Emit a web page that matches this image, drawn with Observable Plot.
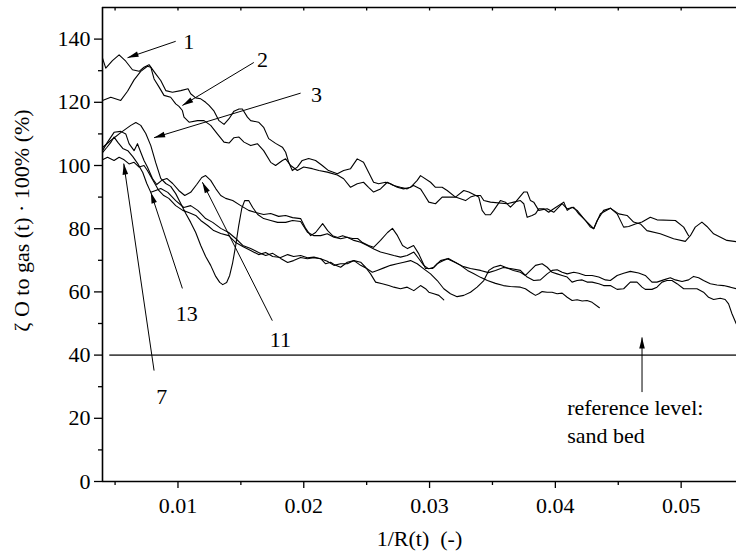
<!DOCTYPE html>
<html><head><meta charset="utf-8">
<script src="https://cdn.jsdelivr.net/npm/d3@7"></script>
<script src="https://cdn.jsdelivr.net/npm/@observablehq/plot@0.6"></script>
<style>body{margin:0;background:#fff} #chart svg{display:block}</style>
</head><body><div id="chart"></div>
<script>
// ---- data (x = 1/R(t), y = zeta O to gas (t) * 100 %) ----
const curve1 = [[0.00400,134.0],[0.00426,130.8],[0.00479,133.2],[0.00532,135.0],[0.00585,133.0],[0.00638,130.3],[0.00691,129.8],[0.00730,131.1],[0.00770,131.9],[0.00823,129.0],[0.00863,126.9],[0.00903,123.7],[0.00956,123.2],[0.01022,123.7],[0.01080,124.3],[0.01101,122.7],[0.01141,121.4],[0.01181,121.1],[0.01220,120.0],[0.01247,119.0],[0.01287,117.2],[0.01326,114.2],[0.01366,113.0],[0.01406,114.8],[0.01445,117.2],[0.01485,117.9],[0.01512,117.9],[0.01552,115.3],[0.01578,114.2],[0.01641,113.7],[0.01681,112.1],[0.01721,108.5],[0.01776,107.0],[0.01830,105.8],[0.01856,104.2],[0.01880,101.0],[0.01909,98.4],[0.01949,99.5],[0.01988,101.6],[0.02039,102.2],[0.02094,101.6],[0.02147,100.0],[0.02197,98.4],[0.02267,97.4],[0.02317,98.4],[0.02372,99.0],[0.02425,102.1],[0.02475,101.0],[0.02515,97.9],[0.02555,94.7],[0.02595,94.2],[0.02650,94.7],[0.02690,94.2],[0.02743,93.1],[0.02793,92.6],[0.02849,93.1],[0.02902,95.3],[0.02928,96.8],[0.03008,94.7],[0.03047,93.1],[0.03100,93.1],[0.03140,92.1],[0.03206,90.0],[0.03286,88.9],[0.03325,90.0],[0.03365,90.5],[0.03405,90.5],[0.03431,88.9],[0.03484,88.4],[0.03617,87.9],[0.03669,88.4],[0.03722,88.9],[0.03749,87.9],[0.03776,83.6],[0.03815,84.2],[0.03842,84.7],[0.03868,86.3],[0.03908,86.3],[0.03947,85.2],[0.03987,86.3],[0.04067,88.4],[0.04094,85.8],[0.04133,86.8],[0.04173,85.8],[0.04239,82.6],[0.04305,80.0],[0.04358,84.7],[0.04437,86.5],[0.04491,84.7],[0.04543,80.5],[0.04583,80.7],[0.04636,81.5],[0.04689,82.1],[0.04755,83.6],[0.04808,82.8],[0.04954,82.6],[0.05020,80.5],[0.05059,77.8]];

const curve2 = [[0.00400,120.6],[0.00466,121.6],[0.00545,120.6],[0.00599,123.5],[0.00651,127.1],[0.00704,129.8],[0.00757,131.4],[0.00784,131.1],[0.00810,127.4],[0.00850,124.8],[0.00889,122.2],[0.00942,121.6],[0.00982,119.5],[0.01008,118.7],[0.01035,117.4],[0.01048,115.3],[0.01088,113.7],[0.01155,114.2],[0.01207,114.2],[0.01260,112.7],[0.01313,110.0],[0.01366,107.4],[0.01406,107.1],[0.01445,108.8],[0.01485,109.0],[0.01525,107.4],[0.01578,106.3],[0.01631,106.9],[0.01681,104.7],[0.01737,101.0],[0.01776,100.0],[0.01830,101.6],[0.01856,102.1],[0.01896,100.0],[0.01949,98.4],[0.01999,99.5],[0.02068,99.0],[0.02120,98.4],[0.02187,97.9],[0.02267,97.0],[0.02317,95.8],[0.02372,93.1],[0.02425,94.2],[0.02475,94.7],[0.02515,93.1],[0.02555,91.6],[0.02610,92.6],[0.02664,94.7],[0.02713,93.7],[0.02769,93.1],[0.02822,92.6],[0.02873,93.7],[0.02928,92.6],[0.02954,91.0],[0.02994,88.4],[0.03047,87.9],[0.03100,90.0],[0.03206,90.0],[0.03272,92.1],[0.03312,91.6],[0.03391,90.0],[0.03418,85.8],[0.03444,84.4],[0.03484,84.4],[0.03510,85.8],[0.03563,88.9],[0.03603,88.4],[0.03643,86.8],[0.03683,88.4],[0.03749,91.6],[0.03776,91.6],[0.03802,88.9],[0.03828,88.4],[0.03868,85.8],[0.03935,86.3],[0.03987,85.2],[0.04054,87.9],[0.04094,86.3],[0.04146,86.8],[0.04186,84.7],[0.04239,82.6],[0.04279,80.5],[0.04305,80.0],[0.04332,82.6],[0.04384,85.8],[0.04437,86.5],[0.04504,84.7],[0.04570,84.2],[0.04622,82.1],[0.04676,81.5],[0.04728,79.4],[0.04834,78.4],[0.04940,76.8],[0.05033,76.0],[0.05073,77.8],[0.05112,80.5],[0.05165,82.1],[0.05205,80.7],[0.05258,78.4],[0.05364,76.3],[0.05438,75.9]];

const curve3 = [[0.00400,105.7],[0.00466,107.9],[0.00545,110.4],[0.00625,112.7],[0.00665,113.6],[0.00704,112.7],[0.00744,110.1],[0.00784,106.3],[0.00823,100.9],[0.00863,95.9],[0.00903,94.3],[0.00942,93.4],[0.00982,91.1],[0.01022,88.0],[0.01062,84.8],[0.01101,82.0],[0.01141,78.8],[0.01181,74.7],[0.01220,71.2],[0.01260,68.4],[0.01300,64.9],[0.01332,63.0],[0.01356,62.3],[0.01387,63.0],[0.01411,65.2],[0.01435,69.3],[0.01459,74.7],[0.01483,81.0],[0.01507,86.4],[0.01530,88.9],[0.01562,88.9],[0.01594,86.7],[0.01634,84.5],[0.01681,83.2],[0.01737,82.6],[0.01792,82.0],[0.01856,82.0],[0.01911,82.6],[0.01975,82.3],[0.02029,78.9],[0.02081,77.8],[0.02134,77.8],[0.02187,78.4],[0.02240,77.3],[0.02293,76.8],[0.02346,77.3],[0.02399,76.3],[0.02452,75.7],[0.02505,74.7],[0.02557,73.6],[0.02610,72.6],[0.02664,72.1],[0.02716,71.5],[0.02769,71.0],[0.02822,71.5],[0.02875,72.6],[0.02915,70.5],[0.02954,68.4],[0.02994,67.3],[0.03034,67.8],[0.03087,69.9],[0.03140,70.5],[0.03206,69.3],[0.03270,68.0],[0.03325,67.4],[0.03405,66.8],[0.03468,66.1],[0.03524,66.8],[0.03587,67.7],[0.03643,67.4],[0.03722,66.8],[0.03776,64.7],[0.03828,63.6],[0.03881,63.8],[0.03935,65.7],[0.03974,66.8],[0.04014,67.0],[0.04054,66.2],[0.04094,65.7],[0.04146,66.2],[0.04186,65.9],[0.04239,65.2],[0.04292,65.2],[0.04345,64.7],[0.04398,63.8],[0.04437,63.6],[0.04491,65.2],[0.04543,65.9],[0.04596,66.5],[0.04662,66.0],[0.04715,65.2],[0.04768,63.1],[0.04808,63.1],[0.04861,63.8],[0.04914,64.5],[0.04954,63.8],[0.05007,63.3],[0.05059,63.8],[0.05099,64.9],[0.05139,64.5],[0.05178,63.6],[0.05232,62.6],[0.05285,62.2],[0.05337,62.0],[0.05391,61.5],[0.05438,61.0]];

const curve11 = [[0.00400,104.7],[0.00440,107.4],[0.00492,110.5],[0.00545,110.8],[0.00585,110.0],[0.00611,106.9],[0.00651,104.7],[0.00678,106.9],[0.00704,104.2],[0.00730,101.6],[0.00757,99.5],[0.00797,95.9],[0.00831,94.0],[0.00871,95.3],[0.00911,95.9],[0.00958,94.3],[0.01006,92.1],[0.01054,90.5],[0.01101,91.5],[0.01149,94.0],[0.01189,96.2],[0.01220,96.8],[0.01260,95.3],[0.01300,92.7],[0.01340,90.5],[0.01379,89.6],[0.01435,88.9],[0.01499,87.3],[0.01562,85.8],[0.01618,85.1],[0.01681,84.5],[0.01737,84.8],[0.01800,83.9],[0.01856,84.2],[0.01911,83.5],[0.01975,83.2],[0.02015,80.1],[0.02055,77.8],[0.02094,78.8],[0.02150,81.6],[0.02190,79.4],[0.02229,77.8],[0.02269,77.2],[0.02309,77.8],[0.02349,77.2],[0.02388,76.9],[0.02428,76.9],[0.02467,75.6],[0.02515,74.7],[0.02555,74.1],[0.02610,76.3],[0.02666,78.8],[0.02705,80.1],[0.02745,77.8],[0.02785,74.7],[0.02825,73.7],[0.02873,74.7],[0.02912,72.2],[0.02968,67.4],[0.03024,67.4],[0.03063,69.0],[0.03111,69.9],[0.03150,70.6],[0.03206,69.3],[0.03246,68.4],[0.03301,66.8],[0.03349,65.8],[0.03405,64.6],[0.03460,63.6],[0.03524,62.7],[0.03587,62.0],[0.03643,61.7],[0.03722,61.5],[0.03762,61.0],[0.03802,59.9],[0.03842,58.9],[0.03868,59.4],[0.03895,60.1],[0.03935,59.9],[0.03974,59.9],[0.04014,59.4],[0.04054,59.6],[0.04094,58.3],[0.04133,57.3],[0.04173,57.5],[0.04213,57.1],[0.04252,57.3],[0.04292,56.7],[0.04350,55.0]];

const curve13 = [[0.00400,104.1],[0.00434,105.7],[0.00466,107.3],[0.00492,109.0],[0.00522,107.3],[0.00561,105.4],[0.00601,104.7],[0.00641,102.8],[0.00680,100.6],[0.00720,97.8],[0.00752,94.3],[0.00784,91.5],[0.00823,92.1],[0.00863,92.7],[0.00919,91.5],[0.00982,88.9],[0.01046,86.7],[0.01101,87.3],[0.01157,85.8],[0.01220,83.2],[0.01276,82.0],[0.01340,80.1],[0.01403,78.8],[0.01459,76.9],[0.01515,74.7],[0.01578,73.7],[0.01641,72.5],[0.01697,71.5],[0.01753,72.2],[0.01816,70.6],[0.01872,69.3],[0.01919,69.9],[0.01975,70.9],[0.02029,70.5],[0.02081,70.8],[0.02134,70.5],[0.02187,69.7],[0.02240,68.4],[0.02293,68.9],[0.02346,68.9],[0.02399,69.9],[0.02452,68.4],[0.02505,67.3],[0.02545,66.2],[0.02584,66.8],[0.02637,67.6],[0.02690,68.4],[0.02743,68.9],[0.02796,69.4],[0.02849,69.9],[0.02902,68.9],[0.02954,67.3],[0.03008,65.7],[0.03061,63.6],[0.03113,61.0],[0.03166,59.4],[0.03219,58.5],[0.03272,58.9],[0.03325,59.9],[0.03378,61.5],[0.03431,63.6],[0.03471,66.8],[0.03510,67.8],[0.03563,68.4],[0.03627,67.4],[0.03667,66.8],[0.03722,66.2],[0.03762,65.2],[0.03802,66.8],[0.03842,68.4],[0.03895,68.9],[0.03935,67.8],[0.03974,66.2],[0.04014,65.7],[0.04054,65.2],[0.04094,64.7],[0.04133,63.1],[0.04173,63.6],[0.04213,63.8],[0.04252,63.1],[0.04292,63.1],[0.04345,62.6],[0.04384,62.0],[0.04437,62.0],[0.04491,60.8],[0.04543,61.0],[0.04596,63.1],[0.04649,63.1],[0.04689,61.5],[0.04715,60.8],[0.04768,60.8],[0.04808,61.5],[0.04848,63.1],[0.04887,63.6],[0.04927,63.6],[0.04967,62.6],[0.05020,61.0],[0.05073,61.0],[0.05126,61.0],[0.05178,59.9],[0.05218,58.3],[0.05258,57.6],[0.05311,58.0],[0.05350,57.6],[0.05377,56.2],[0.05404,53.1],[0.05438,49.9]];

const curve7 = [[0.00400,101.8],[0.00440,102.6],[0.00492,101.6],[0.00532,102.6],[0.00572,101.8],[0.00611,100.5],[0.00651,101.0],[0.00691,99.5],[0.00730,100.0],[0.00757,98.4],[0.00810,94.7],[0.00847,92.1],[0.00887,90.5],[0.00927,89.6],[0.00982,87.3],[0.01038,85.8],[0.01085,85.1],[0.01141,84.2],[0.01181,82.6],[0.01236,81.0],[0.01284,79.4],[0.01340,78.5],[0.01403,77.8],[0.01459,75.6],[0.01515,74.4],[0.01578,73.1],[0.01641,71.8],[0.01697,72.5],[0.01753,71.2],[0.01816,70.9],[0.01872,71.8],[0.01919,71.2],[0.01975,71.5],[0.02029,70.8],[0.02081,71.0],[0.02134,70.5],[0.02174,68.9],[0.02213,69.4],[0.02253,68.4],[0.02293,67.8],[0.02346,69.4],[0.02399,69.9],[0.02452,69.4],[0.02491,67.8],[0.02531,65.7],[0.02571,63.1],[0.02624,62.6],[0.02676,62.0],[0.02716,61.5],[0.02769,61.0],[0.02822,61.5],[0.02875,60.4],[0.02928,62.0],[0.02968,61.0],[0.02994,59.9],[0.03034,59.4],[0.03074,58.9],[0.03113,57.5]];

const seriesNames = ["1", "2", "3", "11", "13", "7"];
const seriesPoints = [curve1, curve2, curve3, curve11, curve13, curve7];

// axes
const xDomain = [0.004, 0.0544];
const yDomain = [0, 150];
const xMajor = [0.01, 0.02, 0.03, 0.04, 0.05];
const xTickLabels = ["0.01", "0.02", "0.03", "0.04", "0.05"];
const xMinor = [0.005, 0.015, 0.025, 0.035, 0.045];
const yMajor = [0, 20, 40, 60, 80, 100, 120, 140];
const yTickLabels = ["0", "20", "40", "60", "80", "100", "120", "140"];
const yMinor = [10, 30, 50, 70, 90, 110, 130];
const xTitle = "1/R(t)\u00a0 (-)";
const yTitle = "\u03b6 O to gas (t) \u00b7 100% (%)";

// reference level
const refLevel = 40;
const refStart = 0.00458;

// annotations (data coordinates)
const arrowData = [
  {x1: 0.00982, y1: 139.3, x2: 0.00599, y2: 134.1},
  {x1: 0.01603, y1: 132.6, x2: 0.01035, y2: 119.0},
  {x1: 0.01975, y1: 122.9, x2: 0.00810, y2: 108.8},
  {x1: 0.01035, y1: 61.1, x2: 0.00784, y2: 91.5},
  {x1: 0.01750, y1: 50.9, x2: 0.01194, y2: 94.7},
  {x1: 0.00810, y1: 35.1, x2: 0.00569, y2: 100.6},
  {x1: 0.04689, y1: 28.3, x2: 0.04689, y2: 45.6}
];
const labelData = [
  {text: "1", x: 0.01085, y: 139.2},
  {text: "2", x: 0.01671, y: 133.3},
  {text: "3", x: 0.02102, y: 122.2},
  {text: "13", x: 0.01070, y: 52.9},
  {text: "11", x: 0.01814, y: 44.9},
  {text: "7", x: 0.00871, y: 26.6}
];
const refText = [
  {text: "reference level:", x: 0.04094, y: 23.4},
  {text: "sand bed", x: 0.04094, y: 14.3}
];

// ---- build ----
const table = seriesNames.flatMap((name, i) => seriesPoints[i].map(([x, y]) => ({series: name, x, y})));
const xFmt = new Map(xMajor.map((v, i) => [v, xTickLabels[i]]));
const yFmt = new Map(yMajor.map((v, i) => [v, yTickLabels[i]]));
const headSymbol = {
  draw(context) {
    context.moveTo(0, 0);
    context.lineTo(2.8, 11);
    context.lineTo(-2.8, 11);
    context.closePath();
  }
};
const FONT = '"Liberation Serif", "Times New Roman", Times, serif';

function build(rot) {
  return Plot.plot({
    width: 736,
    height: 555,
    marginLeft: 102,
    marginRight: 0,
    marginTop: 7,
    marginBottom: 74,
    x: {domain: xDomain, label: null},
    y: {domain: yDomain, label: null},
    style: {fontFamily: FONT, fontSize: "22px", color: "#000", background: "#fff", overflow: "visible"},
    marks: [
      Plot.ruleY([refLevel], {x1: refStart, x2: xDomain[1], stroke: "#4a4a4a", strokeWidth: 1.6}),
      Plot.line(table, {x: "x", y: "y", z: "series", stroke: "#000", strokeWidth: 1.1, strokeLinejoin: "round"}),
      Plot.axisY(yMajor, {tickSize: 8, tickPadding: 4, strokeWidth: 1.3, fontSize: 22, tickFormat: d => yFmt.get(d), label: null}),
      Plot.axisY(yMinor, {tickSize: 4, strokeWidth: 1.3, tickFormat: () => "", label: null}),
      Plot.axisX(xMajor, {tickSize: 7, tickPadding: 9, strokeWidth: 1.3, fontSize: 22, tickFormat: d => xFmt.get(d), label: null}),
      Plot.axisX(xMinor, {tickSize: 4, strokeWidth: 1.3, tickFormat: () => "", label: null}),
      Plot.ruleX(xMajor.concat(xMinor), {y1: yDomain[1], y2: yDomain[1] - 1.1, strokeWidth: 1.3}),
      Plot.ruleX([xDomain[0]], {y1: yDomain[0], y2: yDomain[1], strokeWidth: 1.6}),
      Plot.ruleY([yDomain[0], yDomain[1]], {x1: xDomain[0], x2: xDomain[1], strokeWidth: 1.6}),
      Plot.link(arrowData, {x1: "x1", y1: "y1", x2: "x2", y2: "y2", stroke: "#000", strokeWidth: 1}),
      Plot.dot(arrowData, {x: "x2", y: "y2", symbol: headSymbol, r: 4, fill: "#000", stroke: "none",
        rotate: (d, i) => (rot ? rot[i] : 0)}),
      Plot.text(labelData, {x: "x", y: "y", text: "text", fontSize: 22}),
      Plot.text(refText, {x: "x", y: "y", text: "text", textAnchor: "start", fontSize: 22}),
      Plot.text([xTitle], {text: d => d, frameAnchor: "bottom", dy: 64, fontSize: 22}),
      Plot.text([yTitle], {text: d => d, frameAnchor: "left", textAnchor: "middle", lineAnchor: "middle",
        dx: -81, dy: -24, rotate: -90, fontSize: 22})
    ]
  });
}

const first = build(null);
const sx = first.scale("x"), sy = first.scale("y");
const rot = arrowData.map(d => {
  const dx = sx.apply(d.x2) - sx.apply(d.x1);
  const dy = sy.apply(d.y2) - sy.apply(d.y1);
  return Math.atan2(dx, -dy) * 180 / Math.PI;
});
document.getElementById("chart").append(build(rot));
</script>
</body></html>
